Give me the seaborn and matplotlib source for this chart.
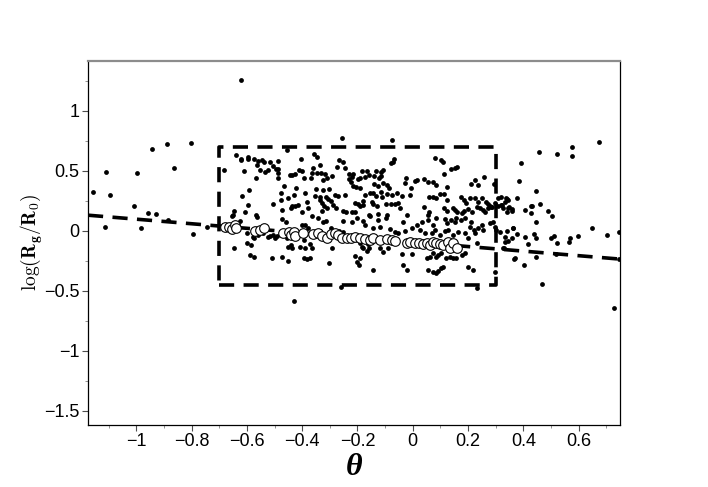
import numpy as np
import matplotlib
matplotlib.use("Agg")
import matplotlib.pyplot as plt
import seaborn as sns
import pandas as pd

# --- data ---
# scattered points outside the dashed box (left side)
left_theta = [-1.157, -1.109, -1.097, -1.113, -0.942, -0.889, -0.802, -0.999, -0.864, -1.009,
              -0.959, -0.929, -0.984, -0.885, -0.795, -0.744, -0.621, -0.430]
left_logr = [0.323, 0.487, 0.298, 0.029, 0.681, 0.723, 0.734, 0.481, 0.52, 0.206,
             0.145, 0.137, 0.025, 0.092, -0.025, 0.029, 1.256, -0.586]

# points on the right side
right_theta = [0.674, 0.576, 0.576, 0.521, 0.458, 0.390, 0.384, 0.445, 0.379, 0.341, 0.343,
               0.322, 0.347, 0.360, 0.340, 0.405, 0.428, 0.431, 0.428, 0.461, 0.488, 0.503,
               0.445, 0.363, 0.316, 0.341, 0.333, 0.377, 0.345, 0.406, 0.439, 0.446, 0.418,
               0.330, 0.499, 0.511, 0.521, 0.564, 0.569, 0.598, 0.648, 0.704, 0.746, 0.517,
               0.445, 0.366, 0.403, 0.468, 0.746, 0.727]
right_logr = [0.739, 0.698, 0.625, 0.639, 0.653, 0.567, 0.412, 0.334, 0.275, 0.267, 0.255,
              0.215, 0.195, 0.181, 0.159, 0.173, 0.206, 0.208, 0.15, 0.22, 0.162, 0.123,
              0.075, 0.023, -0.008, -0.002, -0.05, -0.027, -0.088, -0.052, -0.03, -0.058, -0.113,
              -0.147, -0.063, -0.044, -0.102, -0.094, -0.058, -0.044, 0.020, -0.033, -0.013, -0.194,
              -0.222, -0.236, -0.283, -0.446, -0.233, -0.641]

# points in the upper-left part of the box
ul_theta = [-0.640, -0.620, -0.620, -0.597, -0.595, -0.573, -0.559, -0.547, -0.539, -0.517,
            -0.489, -0.404, -0.564, -0.552, -0.535, -0.523, -0.505, -0.494, -0.488, -0.489,
            -0.682, -0.611, -0.566, -0.488, -0.444, -0.436, -0.426, -0.411, -0.400, -0.393,
            -0.464, -0.424, -0.591, -0.619, -0.476, -0.429, -0.450, -0.388, -0.476, -0.506,
            -0.595, -0.436, -0.426, -0.416, -0.441, -0.382, -0.378, -0.648, -0.607, -0.567,
            -0.651, -0.474, -0.402, -0.456]
ul_logr = [0.631, 0.598, 0.590, 0.598, 0.617, 0.595, 0.581, 0.592, 0.575, 0.575,
           0.579, 0.598, 0.550, 0.509, 0.492, 0.509, 0.542, 0.517, 0.517, 0.484,
           0.506, 0.498, 0.44, 0.437, 0.464, 0.467, 0.470, 0.509, 0.500, 0.443,
           0.373, 0.354, 0.339, 0.289, 0.317, 0.298, 0.275, 0.312, 0.259, 0.225,
           0.214, 0.209, 0.206, 0.212, 0.187, 0.242, 0.187, 0.162, 0.154, 0.131,
           0.131, 0.173, 0.159, 0.673]

# points in the upper-middle part of the box
um_theta = [-0.256, -0.076, -0.357, -0.347, -0.335, -0.266, -0.251, -0.275, -0.246, -0.068,
            -0.073, -0.080, -0.361, -0.366, -0.347, -0.332, -0.317, -0.311, -0.291, -0.324,
            -0.368, -0.230, -0.215, -0.185, -0.164, -0.134, -0.115, -0.109, -0.219, -0.230,
            -0.223, -0.191, -0.197, -0.173, -0.159, -0.139, -0.122, -0.115, -0.217, -0.207,
            -0.189, -0.141, -0.124, -0.109, -0.093, -0.087, -0.025, -0.029, -0.351, -0.325,
            -0.302, -0.352, -0.335, -0.313, -0.306, -0.283, -0.269, -0.245, -0.173, -0.155,
            -0.143, -0.133, -0.116, -0.112, -0.092, -0.076, -0.056, -0.039, -0.010, -0.006,
            -0.335, -0.327, -0.321, -0.297, -0.287, -0.278, -0.311, -0.327, -0.209, -0.197,
            -0.181, -0.179, -0.189, -0.149, -0.143, -0.131, -0.097, -0.079, -0.065, -0.052,
            -0.046, -0.251, -0.242, -0.221, -0.209, -0.157, -0.125, -0.094, -0.022]
um_logr = [0.773, 0.759, 0.642, 0.617, 0.548, 0.589, 0.575, 0.534, 0.520, 0.598,
           0.575, 0.562, 0.520, 0.478, 0.484, 0.481, 0.470, 0.437, 0.453, 0.423,
           0.442, 0.470, 0.473, 0.498, 0.500, 0.500, 0.492, 0.506, 0.448, 0.429,
           0.409, 0.437, 0.429, 0.445, 0.464, 0.456, 0.442, 0.459, 0.375, 0.367,
           0.359, 0.387, 0.375, 0.395, 0.381, 0.359, 0.442, 0.395, 0.348, 0.339,
           0.345, 0.289, 0.284, 0.281, 0.267, 0.298, 0.289, 0.298, 0.298, 0.317,
           0.312, 0.292, 0.320, 0.284, 0.303, 0.298, 0.312, 0.289, 0.298, 0.354,
           0.256, 0.228, 0.206, 0.248, 0.214, 0.192, 0.187, 0.165, 0.228, 0.223,
           0.214, 0.248, 0.204, 0.242, 0.220, 0.206, 0.220, 0.220, 0.220, 0.228,
           0.187, 0.165, 0.154, 0.154, 0.154, 0.131, 0.137, 0.131, 0.131]

# points in the upper-right part of the box
ur_theta = [0.080, 0.102, 0.108, 0.137, 0.153, 0.162, 0.112, 0.008, 0.016, 0.042, 0.056,
            0.074, 0.086, 0.124, 0.211, 0.225, 0.237, 0.259, 0.293, 0.059, 0.072, 0.086,
            0.098, 0.113, 0.125, 0.176, 0.185, 0.194, 0.207, 0.225, 0.237, 0.252, 0.264,
            0.271, 0.279, 0.285, 0.297, 0.309, 0.319, 0.333, 0.336, 0.042, 0.059, 0.114,
            0.123, 0.147, 0.153, 0.162, 0.177, 0.186, 0.201, 0.213, 0.231, 0.243, 0.255,
            0.261, 0.273, 0.288, 0.307, 0.319, 0.328, 0.346, 0.358, 0.056]
ur_logr = [0.604, 0.589, 0.575, 0.512, 0.520, 0.529, 0.473, 0.414, 0.423, 0.429, 0.409,
           0.409, 0.381, 0.367, 0.387, 0.423, 0.381, 0.448, 0.387, 0.284, 0.278, 0.270,
           0.306, 0.303, 0.256, 0.284, 0.256, 0.228, 0.270, 0.275, 0.242, 0.270, 0.242,
           0.220, 0.209, 0.200, 0.228, 0.270, 0.278, 0.242, 0.270, 0.200, 0.159, 0.187,
           0.165, 0.192, 0.173, 0.154, 0.145, 0.165, 0.181, 0.159, 0.200, 0.187, 0.173,
           0.154, 0.187, 0.200, 0.209, 0.214, 0.192, 0.187, 0.165, 0.131]

# points in the lower-left part of the box
ll_theta = [-0.653, -0.625, -0.565, -0.646, -0.601, -0.587, -0.588, -0.574, -0.599, -0.577,
            -0.573, -0.559, -0.541, -0.525, -0.517, -0.505, -0.498, -0.492, -0.511, -0.474,
            -0.458, -0.474, -0.450, -0.456, -0.452, -0.441, -0.436, -0.408, -0.393, -0.390,
            -0.393, -0.384, -0.402, -0.390, -0.378]
ll_logr = [0.123, 0.084, 0.117, -0.147, -0.105, -0.119, -0.202, -0.222, -0.022, -0.05,
           -0.063, -0.036, -0.022, -0.05, -0.042, -0.036, -0.063, -0.042, -0.225, 0.095,
           0.07, -0.217, -0.25, -0.063, -0.138, -0.119, -0.147, -0.133, -0.077, -0.147,
           -0.23, -0.238, 0.048, 0.048, 0.02]

# points in the lower-middle part of the box
lm_theta = [-0.366, -0.342, -0.324, -0.314, -0.251, -0.221, -0.203, -0.181, -0.173, -0.155,
            -0.125, -0.097, -0.143, -0.119, -0.083, -0.065, -0.053, -0.035, -0.029, -0.004,
            -0.335, -0.297, -0.290, -0.266, -0.251, -0.372, -0.366, -0.372, -0.293, -0.191,
            -0.185, -0.179, -0.167, -0.161, -0.157, -0.209, -0.203, -0.193, -0.189, -0.143,
            -0.119, -0.109, -0.089, -0.040, -0.034, -0.022, -0.004, -0.302, -0.260]
lm_logr = [0.125, 0.103, 0.07, 0.081, 0.081, 0.07, 0.103, 0.081, 0.048, 0.125,
           0.089, 0.109, 0.02, 0.034, 0.014, -0.008, -0.022, 0.07, -0.002, 0.025,
           -0.002, 0.02, -0.002, -0.002, -0.008, -0.113, -0.147, -0.225, -0.147, -0.105,
           -0.133, -0.147, -0.169, -0.113, -0.147, -0.208, -0.264, -0.286, -0.225, -0.327,
           -0.147, -0.175, -0.147, -0.197, -0.286, -0.327, -0.197, -0.267, -0.467]

# points in the lower-right part of the box
lr_theta = [0.056, 0.074, 0.086, 0.117, 0.123, 0.140, 0.153, 0.158, 0.176, 0.189, 0.207,
            0.210, 0.223, 0.225, 0.237, 0.250, 0.255, 0.279, 0.291, 0.297, 0.303, 0.014,
            0.032, 0.026, 0.044, 0.068, 0.080, 0.098, 0.117, 0.129, 0.147, 0.165, 0.189,
            0.201, 0.050, 0.062, 0.074, 0.083, 0.092, 0.104, 0.122, 0.135, 0.147, 0.158,
            0.177, 0.189, 0.056, 0.074, 0.086, 0.092, 0.104, 0.110, 0.201, 0.219, 0.231,
            0.297, 0.328, 0.333, 0.358, 0.363, 0.370, 0.231]
lr_logr = [0.089, 0.048, 0.103, 0.098, 0.062, 0.089, 0.070, 0.103, 0.089, 0.109, 0.034,
           0.075, 0.006, -0.022, 0.020, 0.048, 0.006, 0.062, 0.075, 0.034, 0.006, 0.048,
           0.075, 0.006, -0.022, -0.022, 0.006, -0.036, -0.002, 0.006, -0.036, -0.008, -0.022,
           -0.063, -0.230, -0.217, -0.189, -0.217, -0.202, -0.189, -0.230, -0.217, -0.230, -0.225,
           -0.202, -0.189, -0.327, -0.342, -0.355, -0.336, -0.313, -0.300, -0.300, -0.327, -0.480,
           -0.342, -0.147, -0.091, -0.063, 0.020, -0.230, -0.105]

# binned means (open circles)
bin_theta = [-0.679, -0.665, -0.655, -0.643, -0.641, -0.571, -0.553, -0.537, -0.469, -0.448,
             -0.441, -0.429, -0.426, -0.396, -0.360, -0.342, -0.330, -0.312, -0.297, -0.281,
             -0.269, -0.257, -0.239, -0.225, -0.209, -0.191, -0.173, -0.155, -0.143, -0.119,
             -0.094, -0.076, -0.064, -0.022, -0.010, 0.008, 0.023, 0.038, 0.050, 0.062,
             0.074, 0.083, 0.098, 0.110, 0.128, 0.135, 0.147, 0.162]
bin_logr = [0.029, 0.034, 0.014, 0.048, 0.026, 0.000, 0.006, 0.020, -0.022, -0.008,
            -0.036, -0.014, -0.042, -0.022, -0.030, -0.022, -0.042, -0.058, -0.030, -0.022,
            -0.036, -0.063, -0.058, -0.063, -0.050, -0.058, -0.069, -0.077, -0.058, -0.077,
            -0.069, -0.077, -0.086, -0.105, -0.097, -0.105, -0.105, -0.113, -0.105, -0.119,
            -0.097, -0.105, -0.113, -0.119, -0.097, -0.147, -0.105, -0.142]

# linear fit line and selection box
fit_theta = [-1.175, 0.75]
fit_logr = [0.129, -0.237]
box_theta = [-0.7, 0.3]
box_logr = [-0.45, 0.7]

# tick labels
xticks = [-1, -0.8, -0.6, -0.4, -0.2, 0, 0.2, 0.4, 0.6]
xlabels = ['\u22121', '\u22120.8', '\u22120.6', '\u22120.4', '\u22120.2', '0', '0.2', '0.4', '0.6']
yticks = [1, 0.5, 0, -0.5, -1, -1.5]
ylabels = ['1', '0.5', '0', '\u22120.5', '\u22121', '\u22121.5']

sns.set_theme(style="white")
plt.rcParams['font.family'] = ['Liberation Sans', 'DejaVu Sans']
plt.rcParams['mathtext.fontset'] = 'cm'

df = pd.DataFrame({
    'theta': left_theta + right_theta + ul_theta + um_theta + ur_theta + ll_theta + lm_theta + lr_theta,
    'logr': left_logr + right_logr + ul_logr + um_logr + ur_logr + ll_logr + lm_logr + lr_logr,
})
df_bin = pd.DataFrame({'theta': bin_theta, 'logr': bin_logr})

fig = plt.figure(figsize=(7.08, 4.87), dpi=100)
ax = fig.add_axes([0.1243, 0.1273, 0.7514, 0.7481])

sns.scatterplot(data=df, x='theta', y='logr', ax=ax, color='black', s=12,
                linewidth=0, zorder=2)

# fit line
ax.plot(fit_theta, fit_logr, color='black', lw=2.6, dashes=(4.2, 2.6), zorder=3)

# dashed selection box
bx = [box_theta[0], box_theta[1], box_theta[1], box_theta[0], box_theta[0]]
by = [box_logr[0], box_logr[0], box_logr[1], box_logr[1], box_logr[0]]
ax.plot(bx, by, color='black', lw=2.6, dashes=(4.2, 2.6), zorder=3)

sns.scatterplot(data=df_bin, x='theta', y='logr', ax=ax, color='white', s=48,
                edgecolor='black', linewidth=0.8, zorder=4)

ax.set_xlim(-1.175, 0.75)
ax.set_ylim(-1.62, 1.417)
ax.set_xticks(xticks)
ax.set_xticklabels(xlabels, fontsize=13, color='black')
ax.set_yticks(yticks)
ax.set_yticklabels(ylabels, fontsize=13, color='black')
ax.set_xticks(np.arange(-1.1, 0.75, 0.1), minor=True)
ax.set_yticks(np.arange(-1.5, 1.4, 0.25), minor=True)
ax.tick_params(which='major', direction='out', length=4, width=0.8, color='0.3',
               bottom=True, left=True, pad=2)
ax.tick_params(which='minor', direction='out', length=2, width=0.6, color='0.5',
               bottom=True, left=True)

for side in ['left', 'right', 'bottom']:
    ax.spines[side].set_color('black')
    ax.spines[side].set_linewidth(0.9)
ax.spines['top'].set_color('0.55')
ax.spines['top'].set_linewidth(1.6)

ax.set_xlabel('\u03b8', fontfamily='Liberation Serif', fontweight='bold',
              fontstyle='italic', fontsize=23, labelpad=2, color='black')
ax.set_ylabel(r'$\mathbf{\log(R_g/R_0)}$', fontsize=14, color='black')
ax.yaxis.set_label_coords(-0.081, 0.5)

fig.savefig('out.png', dpi=100)
